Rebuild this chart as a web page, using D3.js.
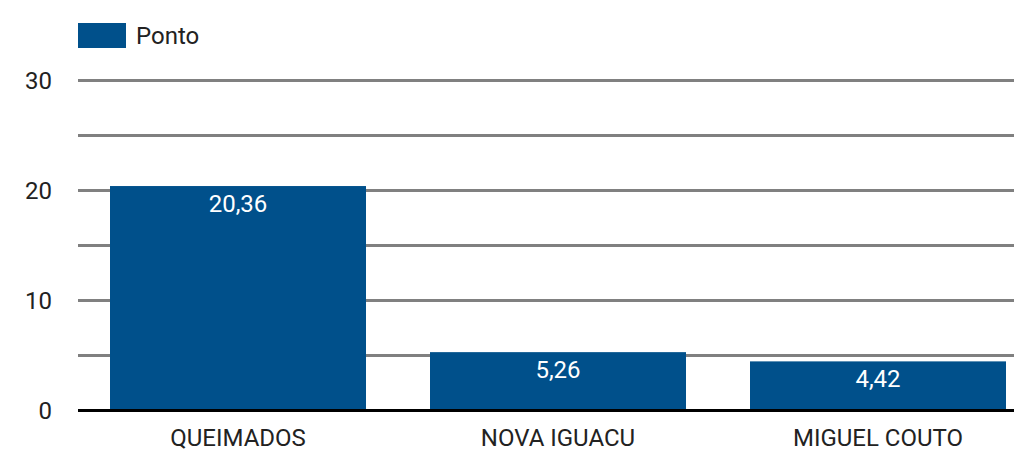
<!DOCTYPE html>
<html>
<head>
<meta charset="utf-8">
<script src="https://cdn.jsdelivr.net/npm/d3@7"></script>
<style>
  body { margin: 0; background: #fff; }
  svg { display: block; font-family: Roboto, sans-serif; }
</style>
</head>
<body>
<div id="chart"></div>
<script>
// data
var categories = ["QUEIMADOS", "NOVA IGUACU", "MIGUEL COUTO"];
var values = [20.36, 5.26, 4.42];
var labels = ["20,36", "5,26", "4,42"];
var yTicks = [0, 10, 20, 30];
var gridTicks = [5, 10, 15, 20, 25, 30];
var seriesName = "Ponto";

var W = 1014, H = 451;
var color = "#00508b";
var fs = 24;

var svg = d3.select("#chart")
  .append("svg")
    .attr("width", W)
    .attr("height", H);

var x = d3.scaleBand()
  .domain(categories)
  .range([78, 1038])
  .paddingInner(0.2)
  .paddingOuter(0.1);

var y = d3.scaleLinear()
  .domain([0, 30])
  .range([410, 80]);

// grid lines
svg.append("g")
  .selectAll("line")
  .data(gridTicks)
  .enter().append("line")
    .attr("x1", 78)
    .attr("x2", W)
    .attr("y1", function(d) { return y(d) + 0.5; })
    .attr("y2", function(d) { return y(d) + 0.5; })
    .attr("stroke", "#808080")
    .attr("stroke-width", 3);

// y axis labels
var yAxis = svg.append("g")
  .attr("transform", "translate(52,0.5)")
  .call(d3.axisLeft(y).tickValues(yTicks).tickSize(0).tickPadding(0));
yAxis.select(".domain").remove();
yAxis.selectAll("text")
  .attr("font-size", fs)
  .attr("font-family", "Roboto, sans-serif")
  .attr("fill", "#222");

// bars
svg.append("g")
  .selectAll("rect")
  .data(values)
  .enter().append("rect")
    .attr("x", function(d, i) { return x(categories[i]); })
    .attr("y", function(d) { return y(d); })
    .attr("width", x.bandwidth())
    .attr("height", function(d) { return y(0) - y(d); })
    .attr("fill", color);

// value labels
svg.append("g")
  .selectAll("text")
  .data(values)
  .enter().append("text")
    .attr("x", function(d, i) { return x(categories[i]) + x.bandwidth() / 2; })
    .attr("y", function(d) { return y(d) + 26; })
    .attr("text-anchor", "middle")
    .attr("font-size", fs)
    .attr("fill", "#fff")
    .text(function(d, i) { return labels[i]; });

// baseline
svg.append("line")
  .attr("x1", 78)
  .attr("x2", W)
  .attr("y1", y(0) + 0.5)
  .attr("y2", y(0) + 0.5)
  .attr("stroke", "#000")
  .attr("stroke-width", 3);

// x axis labels
var xAxis = svg.append("g")
  .attr("transform", "translate(0," + (y(0) + 19) + ")")
  .call(d3.axisBottom(x).tickSize(0).tickPadding(0));
xAxis.select(".domain").remove();
xAxis.selectAll("text")
  .attr("font-size", fs)
  .attr("font-family", "Roboto, sans-serif")
  .attr("fill", "#222");

// legend
svg.append("rect")
  .attr("x", 78)
  .attr("y", 23)
  .attr("width", 48)
  .attr("height", 25)
  .attr("fill", color);
svg.append("text")
  .attr("x", 136)
  .attr("y", 44)
  .attr("font-size", fs)
  .attr("fill", "#222")
  .text(seriesName);
</script>
</body>
</html>
